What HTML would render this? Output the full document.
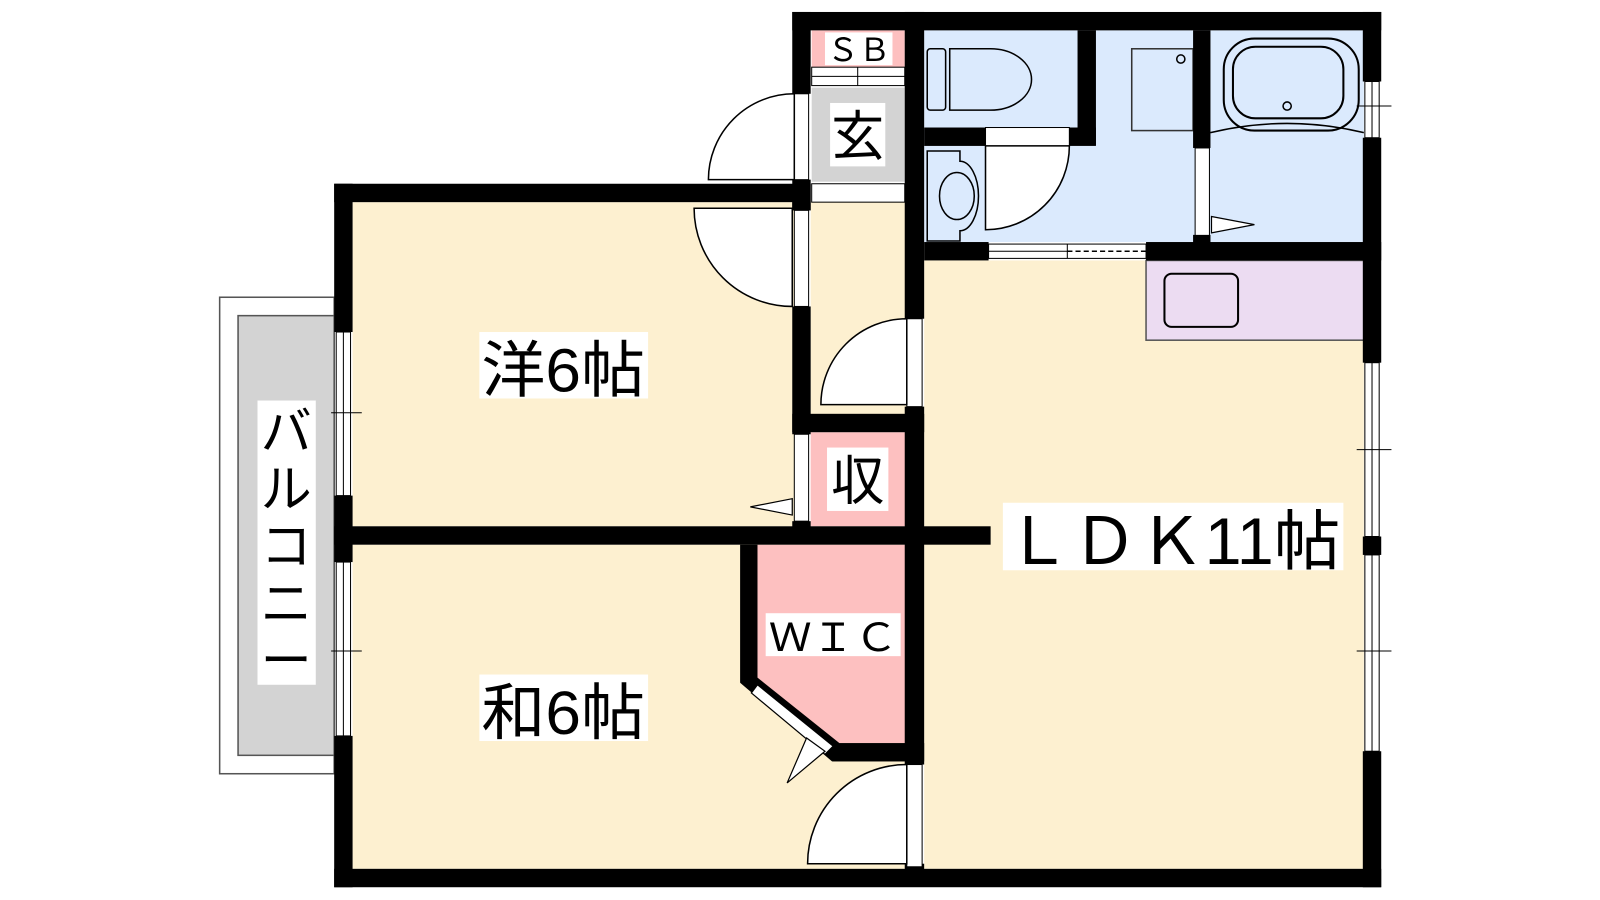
<!DOCTYPE html>
<html><head><meta charset="utf-8"><style>
html,body{margin:0;padding:0;background:#fff;}
svg{display:block}
text{font-family:"Liberation Sans","Noto Sans CJK JP",sans-serif;fill:#000}
</style></head><body>
<svg width="1600" height="900" viewBox="0 0 1600 900" xmlns="http://www.w3.org/2000/svg">
<rect width="1600" height="900" fill="#fff"/>
<g transform="translate(-1.2,-0.3) scale(1.0225)">
<rect x="216" y="291" width="112" height="466" fill="#fff" stroke="#555" stroke-width="1.5"/>
<rect x="234" y="309" width="94" height="430" fill="#d3d3d3" stroke="#555" stroke-width="1.5"/>
<rect x="346" y="198" width="440" height="317" fill="#fdf0d0"/>
<rect x="346" y="533" width="550" height="317" fill="#fdf0d0"/>
<rect x="794" y="198" width="94" height="210" fill="#fdf0d0"/>
<rect x="905" y="255" width="430" height="595" fill="#fdf0d0"/>
<rect x="1122" y="255" width="213" height="78" fill="#ecdcf2" stroke="#555" stroke-width="1.5"/>
<rect x="1140" y="268" width="72" height="52" rx="7" fill="none" stroke="#000" stroke-width="2"/>
<rect x="794" y="423" width="94" height="92" fill="#fdc0c0"/>
<polygon points="742,533 888,533 888,727 815,727 742,665" fill="#fdc0c0"/>
<rect x="795" y="30" width="91" height="36" fill="#fdc0c0"/>
<rect x="795" y="86" width="91" height="92" fill="#d3d3d3"/>
<rect x="905" y="30" width="430" height="207" fill="#dbeafd"/>
<rect x="1108" y="48" width="60" height="80" fill="none" stroke="#333" stroke-width="1.5"/>
<circle cx="1156" cy="58" r="4" fill="none" stroke="#000" stroke-width="1.5"/>
<rect x="1198" y="38" width="132" height="90" rx="30" fill="none" stroke="#000" stroke-width="2"/>
<rect x="1207" y="46" width="108" height="70" rx="22" fill="none" stroke="#000" stroke-width="2"/>
<circle cx="1260" cy="104" r="4" fill="none" stroke="#000" stroke-width="1.5"/>
<path d="M1185 130 Q1260 112 1335 130" fill="none" stroke="#000" stroke-width="1.5"/>
<rect x="908" y="48" width="18" height="60" rx="3" fill="none" stroke="#000" stroke-width="1.5"/>
<path d="M930 48 h40 a40 30 0 0 1 0 60 h-40 z" fill="none" stroke="#000" stroke-width="1.5"/>
<path d="M908 148 h32 v10 a16 30 0 0 1 0 68 v10 h-32 z" fill="none" stroke="#000" stroke-width="1.5"/>
<ellipse cx="937" cy="192" rx="17" ry="23" fill="none" stroke="#000" stroke-width="1.5"/>
<rect x="965" y="125" width="82" height="18" fill="#fff" stroke="#000" stroke-width="1"/>
<path d="M965 143 L965 225 A82 82 0 0 0 1047 143 Z" fill="#fff" stroke="#000" stroke-width="1.5"/>
<rect x="1170" y="145" width="14" height="90" fill="#fff" stroke="#000" stroke-width="1"/>
<polygon points="1186,212 1228,220 1186,228" fill="#fff" stroke="#000" stroke-width="1.2"/>
<g fill="#000">
<rect x="776" y="12" width="576" height="18"/>
<rect x="776" y="12" width="18" height="80"/>
<rect x="776" y="176" width="18" height="30"/>
<rect x="886" y="12" width="19" height="300"/>
<rect x="886" y="398" width="19" height="350"/>
<rect x="886" y="845" width="19" height="20"/>
<rect x="1055" y="30" width="18" height="112"/>
<rect x="905" y="125" width="60" height="18"/>
<rect x="1047" y="125" width="26" height="18"/>
<rect x="1168" y="30" width="17" height="115"/>
<rect x="1168" y="230" width="17" height="10"/>
<rect x="905" y="237" width="63" height="18"/>
<rect x="1122" y="237" width="230" height="18"/>
<rect x="1334" y="12" width="18" height="68"/>
<rect x="1334" y="135" width="18" height="220"/>
<rect x="1334" y="525" width="18" height="18"/>
<rect x="1334" y="735" width="18" height="133"/>
<rect x="328" y="180" width="466" height="18"/>
<rect x="328" y="180" width="18" height="145"/>
<rect x="328" y="485" width="18" height="65"/>
<rect x="328" y="720" width="18" height="148"/>
<rect x="328" y="850" width="1024" height="18"/>
<rect x="328" y="515" width="642" height="18"/>
<rect x="776" y="198" width="18" height="8"/>
<rect x="776" y="300" width="18" height="125"/>
<rect x="776" y="510" width="18" height="10"/>
<rect x="776" y="405" width="129" height="18"/>
<rect x="725" y="533" width="17" height="135"/>
<polygon points="725,668 742,663 822,727 815,745"/>
<rect x="815" y="727" width="90" height="18"/>
</g>
<rect x="795" y="66" width="91" height="18" fill="#fff" stroke="#000" stroke-width="1"/>
<line x1="795" y1="75" x2="886" y2="75" stroke="#000" stroke-width="1"/>
<line x1="840" y1="66" x2="840" y2="84" stroke="#000" stroke-width="1"/>
<rect x="795" y="180" width="91" height="18" fill="#fff" stroke="#000" stroke-width="1"/>
<rect x="778" y="92" width="14" height="84" fill="#fff" stroke="#000" stroke-width="1"/>
<path d="M778 92 A84 84 0 0 0 694 176 L778 176 Z" fill="#fff" stroke="#000" stroke-width="1.5"/>
<rect x="778" y="206" width="14" height="94" fill="#fff" stroke="#000" stroke-width="1"/>
<path d="M776 300 A96 96 0 0 1 680 204 L776 204 Z" fill="#fff" stroke="#000" stroke-width="1.5"/>
<rect x="888" y="312" width="15" height="86" fill="#fff" stroke="#000" stroke-width="1"/>
<path d="M888 312 A84 84 0 0 0 804 396 L888 396 Z" fill="#fff" stroke="#000" stroke-width="1.5"/>
<rect x="778" y="425" width="14" height="85" fill="#fff" stroke="#000" stroke-width="1"/>
<polygon points="776,488 735,496 776,504" fill="#fff" stroke="#000" stroke-width="1.2"/>
<polygon points="742,670 816,730 808,738 736,678" fill="#fff" stroke="#000" stroke-width="1.2"/>
<polygon points="790,722 771,766 808,735" fill="#fff" stroke="#000" stroke-width="1.2"/>
<rect x="888" y="748" width="15" height="100" fill="#fff" stroke="#000" stroke-width="1"/>
<path d="M888 748 A97 97 0 0 0 791 845 L888 845 Z" fill="#fff" stroke="#000" stroke-width="1.5"/>
<rect x="968" y="239" width="154" height="14" fill="#fff" stroke="#000" stroke-width="1"/>
<line x1="968" y1="246" x2="1045" y2="246" stroke="#000" stroke-width="1"/>
<line x1="1045" y1="246" x2="1122" y2="246" stroke="#000" stroke-width="1.5" stroke-dasharray="5,3"/>
<line x1="1045" y1="239" x2="1045" y2="253" stroke="#000" stroke-width="1"/>
<g fill="#fff" stroke="#000" stroke-width="1">
<rect x="330" y="325" width="14" height="160"/>
<rect x="330" y="550" width="14" height="170"/>
<rect x="1336" y="80" width="14" height="55"/>
<rect x="1336" y="355" width="14" height="170"/>
<rect x="1336" y="543" width="14" height="192"/>
</g>
<g stroke="#000" stroke-width="1">
<line x1="337" y1="325" x2="337" y2="485"/><line x1="337" y1="550" x2="337" y2="720"/>
<line x1="1343" y1="80" x2="1343" y2="135"/><line x1="1343" y1="355" x2="1343" y2="525"/><line x1="1343" y1="543" x2="1343" y2="735"/>
<line x1="325" y1="404" x2="355" y2="404"/><line x1="325" y1="637" x2="355" y2="637"/>
<line x1="1328" y1="104" x2="1362" y2="104"/><line x1="1328" y1="440" x2="1362" y2="440"/><line x1="1328" y1="637" x2="1362" y2="637"/>
</g>
<rect x="808" y="32" width="66" height="32" fill="#fff"/>
<text x="841" y="60" font-size="31" text-anchor="middle">ＳＢ</text>
<rect x="813" y="101" width="54" height="62" fill="#fff"/>
<text x="840" y="152" font-size="52" text-anchor="middle">玄</text>
<rect x="810" y="438" width="60" height="62" fill="#fff"/>
<text x="840" y="489" font-size="52" text-anchor="middle">収</text>
<rect x="750" y="600" width="132" height="42" fill="#fff"/>
<text x="816" y="637" font-size="38" text-anchor="middle" textLength="126" lengthAdjust="spacingAndGlyphs">ＷＩＣ</text>
<rect x="253" y="392" width="57" height="278" fill="#fff"/>
<text font-size="50" text-anchor="middle"><tspan x="281" y="440">バ</tspan><tspan x="281" y="496">ル</tspan><tspan x="281" y="552">コ</tspan><tspan x="281" y="608">ニ</tspan><tspan x="281" y="664">ー</tspan></text>
<rect x="470" y="325" width="165" height="65" fill="#fff"/>
<text x="552" y="383" font-size="60" text-anchor="middle" textLength="160" lengthAdjust="spacingAndGlyphs">洋6帖</text>
<rect x="470" y="660" width="165" height="65" fill="#fff"/>
<text x="552" y="718" font-size="60" text-anchor="middle" textLength="160" lengthAdjust="spacingAndGlyphs">和6帖</text>
<rect x="982" y="492" width="333" height="66" fill="#fff"/>
<text x="1148" y="552" font-size="64" text-anchor="middle" textLength="328" lengthAdjust="spacingAndGlyphs">ＬＤＫ11帖</text>
</g>
</svg>
</body></html>
